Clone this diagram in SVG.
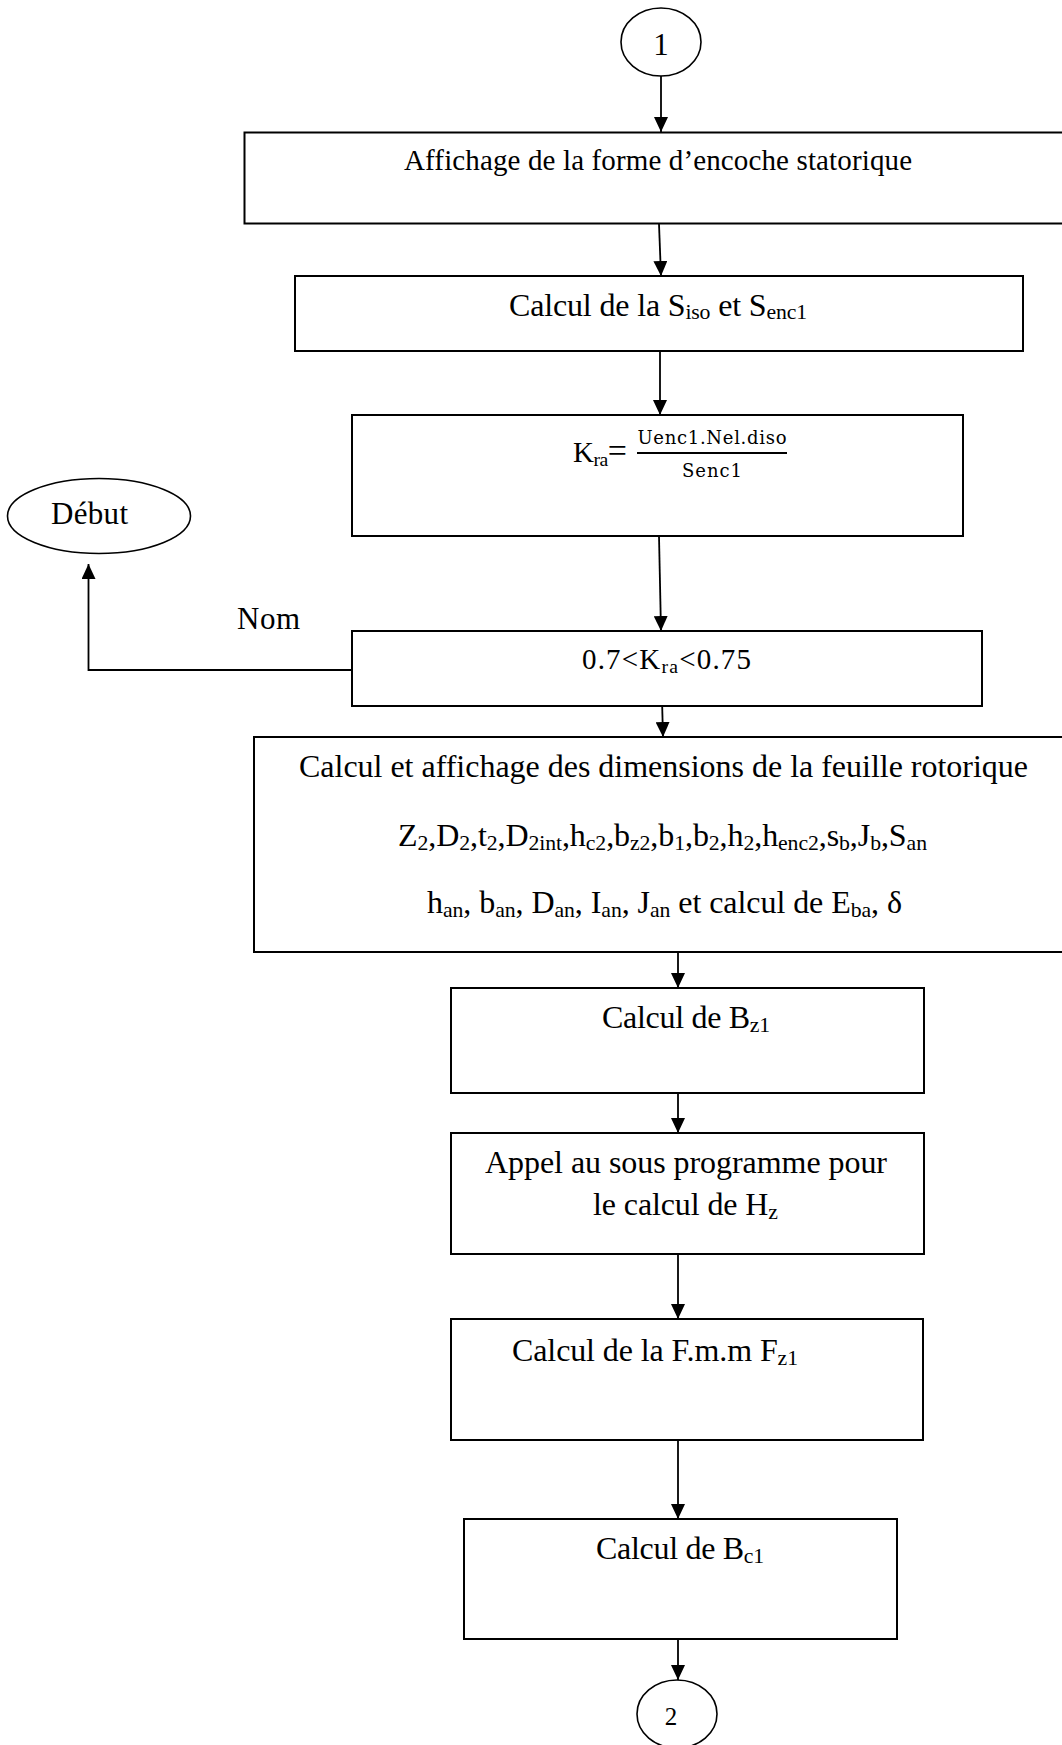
<svg xmlns="http://www.w3.org/2000/svg" width="1062" height="1745" viewBox="0 0 1062 1745">
<style>
  .box{fill:#fff;stroke:#000;stroke-width:2}
  .term{fill:#fff;stroke:#000;stroke-width:1.6}
  .t{font-family:"Liberation Serif","Times New Roman",serif;fill:#000}
  .m{font-family:"DejaVu Serif",serif;fill:#000}
  .sb{font-size:0.68em}
  .conn{fill:none;stroke:#000;stroke-width:1.8}
</style>
<defs>
  <marker id="ah" viewBox="0 0 15 14" refX="15" refY="7" markerWidth="15" markerHeight="14" orient="auto" markerUnits="userSpaceOnUse">
    <path d="M0,0 L15,7 L0,14 z" fill="#000"/>
  </marker>
</defs>
<rect x="0" y="0" width="1062" height="1745" fill="#fff"/>

<g id="connectors">
  <line class="conn" x1="661" y1="76" x2="661" y2="132" marker-end="url(#ah)"/>
  <line class="conn" x1="659" y1="224" x2="661" y2="276" marker-end="url(#ah)"/>
  <line class="conn" x1="660" y1="351" x2="660" y2="415" marker-end="url(#ah)"/>
  <line class="conn" x1="659" y1="536" x2="661" y2="631" marker-end="url(#ah)"/>
  <line class="conn" x1="662" y1="699" x2="663" y2="737" marker-end="url(#ah)"/>
  <line class="conn" x1="678" y1="952" x2="678" y2="988" marker-end="url(#ah)"/>
  <line class="conn" x1="678" y1="1093" x2="678" y2="1133" marker-end="url(#ah)"/>
  <line class="conn" x1="678" y1="1254" x2="678" y2="1319" marker-end="url(#ah)"/>
  <line class="conn" x1="678" y1="1440" x2="678" y2="1519" marker-end="url(#ah)"/>
  <line class="conn" x1="678" y1="1639" x2="678" y2="1680" marker-end="url(#ah)"/>
  <polyline class="conn" points="352,670 88.5,670 88.5,564" marker-end="url(#ah)"/>
  <text class="t" x="237" y="629" font-size="31" textLength="63">Nom</text>
</g>

<g id="n1">
  <ellipse class="term" cx="661" cy="42" rx="40" ry="34"/>
  <text class="t" x="661" y="55" font-size="31" text-anchor="middle">1</text>
</g>

<g id="n_affichage">
  <rect class="box" x="244.5" y="132.5" width="830" height="91"/>
  <text class="t" x="404" y="170" font-size="29" textLength="508">Affichage de la forme d’encoche statorique</text>
</g>

<g id="n_siso">
  <rect class="box" x="295" y="276" width="728" height="75"/>
  <text class="t" x="509" y="316" font-size="32" textLength="298">Calcul de la S<tspan class="sb" dy="3">iso</tspan><tspan dy="-3"> et S</tspan><tspan class="sb" dy="3">enc1</tspan></text>
</g>

<g id="n_kra">
  <rect class="box" x="352" y="415" width="611" height="121"/>
  <text class="t" x="573" y="462" font-size="29" textLength="54">K<tspan class="sb" dy="4">ra</tspan><tspan dy="-4" font-size="34">=</tspan></text>
  <line x1="637" y1="453" x2="787" y2="453" stroke="#000" stroke-width="1.8"/>
  <text class="m" x="712" y="444" font-size="18" text-anchor="middle" textLength="149">Uenc1.Nel.diso</text>
  <text class="m" x="712" y="477" font-size="18" text-anchor="middle" textLength="60">Senc1</text>
</g>

<g id="n_test">
  <rect class="box" x="352" y="631" width="630" height="75"/>
  <text class="t" x="582" y="669" font-size="29" textLength="169">0.7&lt;K<tspan class="sb" dy="4">ra</tspan><tspan dy="-4">&lt;0.75</tspan></text>
</g>

<g id="n_debut">
  <ellipse class="term" cx="99" cy="516" rx="91.5" ry="37.5"/>
  <text class="t" x="51" y="524" font-size="31" textLength="77">Début</text>
</g>

<g id="n_rotor">
  <rect class="box" x="254" y="737" width="830" height="215"/>
  <text class="t" x="299" y="777" font-size="32" textLength="729">Calcul et affichage des dimensions de la feuille rotorique</text>
  <text class="t" x="398" y="846" font-size="32" textLength="529">Z<tspan class="sb" dy="4">2</tspan><tspan dy="-4">,D</tspan><tspan class="sb" dy="4">2</tspan><tspan dy="-4">,t</tspan><tspan class="sb" dy="4">2</tspan><tspan dy="-4">,D</tspan><tspan class="sb" dy="4">2int</tspan><tspan dy="-4">,h</tspan><tspan class="sb" dy="4">c2</tspan><tspan dy="-4">,b</tspan><tspan class="sb" dy="4">z2</tspan><tspan dy="-4">,b</tspan><tspan class="sb" dy="4">1</tspan><tspan dy="-4">,b</tspan><tspan class="sb" dy="4">2</tspan><tspan dy="-4">,h</tspan><tspan class="sb" dy="4">2</tspan><tspan dy="-4">,h</tspan><tspan class="sb" dy="4">enc2</tspan><tspan dy="-4">,s</tspan><tspan class="sb" dy="4">b</tspan><tspan dy="-4">,J</tspan><tspan class="sb" dy="4">b</tspan><tspan dy="-4">,S</tspan><tspan class="sb" dy="4">an</tspan></text>
  <text class="t" x="427" y="913" font-size="32" textLength="475">h<tspan class="sb" dy="4">an</tspan><tspan dy="-4">, b</tspan><tspan class="sb" dy="4">an</tspan><tspan dy="-4">, D</tspan><tspan class="sb" dy="4">an</tspan><tspan dy="-4">, I</tspan><tspan class="sb" dy="4">an</tspan><tspan dy="-4">, J</tspan><tspan class="sb" dy="4">an</tspan><tspan dy="-4"> et calcul de E</tspan><tspan class="sb" dy="4">ba</tspan><tspan dy="-4">, δ</tspan></text>
</g>

<g id="n_bz1">
  <rect class="box" x="451" y="988" width="473" height="105"/>
  <text class="t" x="602" y="1028" font-size="32" textLength="168">Calcul de B<tspan class="sb" dy="4">z1</tspan></text>
</g>

<g id="n_hz">
  <rect class="box" x="451" y="1133" width="473" height="121"/>
  <text class="t" x="485" y="1173" font-size="32" textLength="402">Appel au sous programme pour</text>
  <text class="t" x="593" y="1215" font-size="32" textLength="185">le calcul de H<tspan class="sb" dy="4">z</tspan></text>
</g>

<g id="n_fz1">
  <rect class="box" x="451" y="1319" width="472" height="121"/>
  <text class="t" x="512" y="1361" font-size="32" textLength="286">Calcul de la F.m.m F<tspan class="sb" dy="4">z1</tspan></text>
</g>

<g id="n_bc1">
  <rect class="box" x="464" y="1519" width="433" height="120"/>
  <text class="t" x="596" y="1559" font-size="32" textLength="168">Calcul de B<tspan class="sb" dy="4">c1</tspan></text>
</g>

<g id="n2">
  <ellipse class="term" cx="677" cy="1714" rx="40" ry="34"/>
  <text class="t" x="671" y="1725" font-size="25" text-anchor="middle">2</text>
</g>
</svg>
